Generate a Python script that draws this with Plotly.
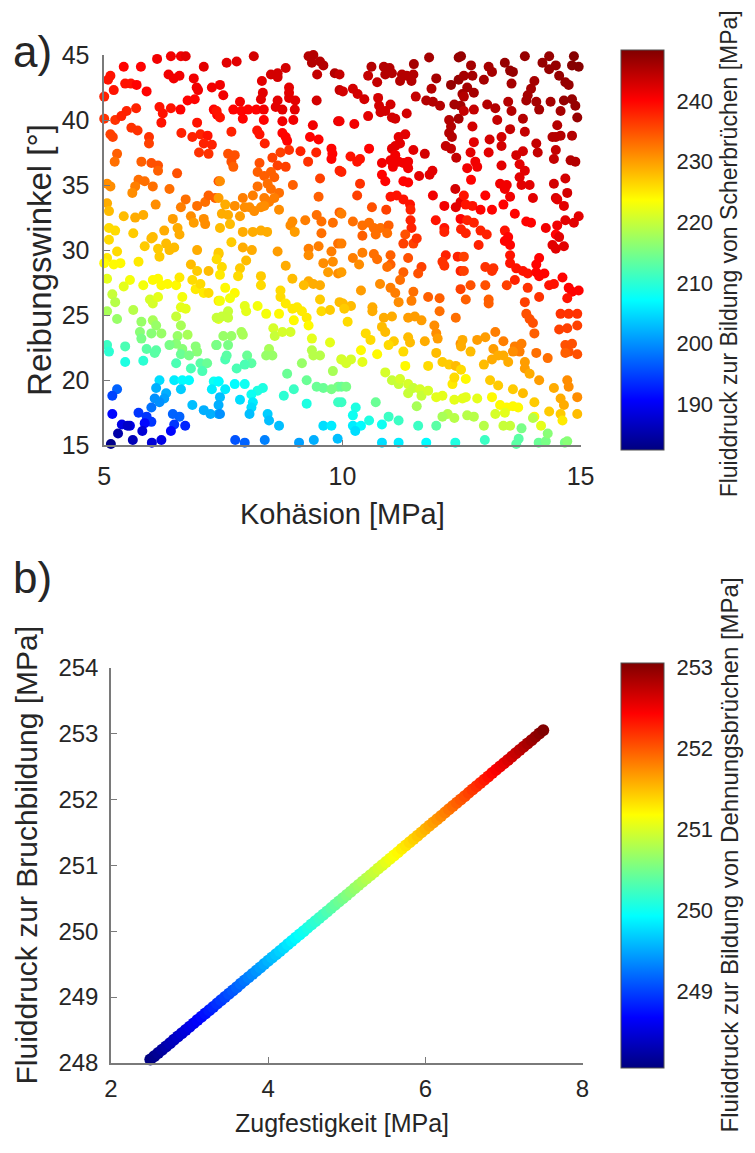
import plotly.graph_objects as go

# ---------------- Panel a data (Kohäsion, Reibungswinkel, Fluiddruck Scherbruch) ----------------
koh_1 = [6.11,6.40,6.61,6.71, 5.41,5.77,7.09, 5.13,5.08,6.35,6.46,6.58,6.88,
         5.44,5.56,5.68,5.20,5.89,6.94,6.97,7.26,
         5.00,6.75,6.90,6.16,6.23,6.40,6.60,5.47,5.67,7.30,7.37,
         5.00,5.23,5.36,6.20,6.95,5.57,5.70,5.13,5.18,6.62,6.85,7.02,7.17,5.94,5.94,7.09,7.26,
         6.99,7.19,5.27,5.22,5.78,5.99,6.13,6.13,6.53,
         5.06,5.13,5.72,5.85,5.65,5.59,6.02,6.37,7.40,
         5.06,5.10,6.08,6.71,6.61,6.95,7.12,7.19,7.33,
         5.41,5.65,5.82,6.44,6.82,6.88,7.09,7.12,
         5.10,5.23,5.61,6.26,6.54,6.58,6.02]
rw_1 = [44.7,44.9,44.9,44.9, 44.1,44.1,44.1, 43.4,43.1,43.5,43.2,43.4,43.2,
        42.8,42.8,42.7,42.3,42.2,42.5,42.3,42.5,
        41.8,41.5,41.6,41.0,40.5,40.9,40.8,40.7,40.9,40.8,40.4,
        40.1,40.0,40.3,39.8,39.8,39.4,39.2,38.9,38.7,39.0,38.7,38.9,38.8,38.7,38.2,38.2,38.1,
        37.5,37.4,37.4,36.8,36.8,36.7,36.5,36.1,35.9,
        35.1,34.9,35.4,35.3,34.9,34.4,34.9,34.7,35.3,
        33.6,33.0,33.5,33.9,33.3,33.4,33.7,34.2,34.0,
        32.6,32.5,32.7,32.4,32.6,32.1,32.4,32.0,
        31.7,31.5,31.3,31.5,31.7,31.2,31.0]
fd_1 = [241,241,241,242, 240,240,242, 239,239,241,241,241,241,
        239,239,240,239,240,241,241,241,
        238,240,240,239,239,239,240,238,238,240,240,
        237,237,238,239,239,237,237,236,236,238,238,238,239,237,236,238,238,
        237,237,234,233,234,235,235,234,235,
        231,231,233,233,232,231,233,233,235,
        229,228,231,233,232,233,233,234,234,
        228,229,229,230,231,230,231,231,
        226,226,227,229,229,229,228]

koh_2 = [8.14,7.57,7.78,9.29,9.39,9.36,9.53,9.60,8.81,8.50,8.64,8.64,9.47,9.84,8.31,7.43,8.88,8.88,8.88,8.33,8.29,7.50,9.94,9.46,8.64,8.60,8.74,9.01,9.00,7.85,
         7.71,7.88,8.02,8.19,8.35,7.36,7.43,7.91,8.35,8.74,8.97,9.91,9.38,
         7.67,8.21,8.26,8.74,8.81,8.84,9.32,9.50,8.37,9.77,9.79,9.77,9.12,9.45,8.88,
         7.60,7.74,7.67,7.71,8.26,8.53,8.70,8.64,8.81,9.28,9.94,
         8.22,8.36,8.50,8.57,7.43,9.53,8.22,8.43,8.50,8.67,8.96,
         7.91,8.12,8.36,8.46,8.57,7.40,9.50,
         7.74,7.95,8.05,8.15,8.29,8.36,8.67,7.54,7.47,7.60,9.94,7.85,8.95,8.91,9.22,9.46,9.56,9.80,
         7.43,7.64,7.91,8.12,8.29,8.42,9.00]
rw_2 = [44.9,44.4,44.5,44.9,45.0,44.4,44.5,44.2,44.0,43.5,43.6,43.3,43.5,43.6,43.0,42.7,42.5,42.1,41.7,42.1,41.6,41.9,42.3,41.5,41.5,41.0,40.8,41.5,40.8,41.4,
        40.8,40.7,40.8,40.8,40.8,40.7,40.2,40.1,40.0,39.9,40.0,39.9,39.6,
        39.1,39.2,38.9,39.0,38.7,38.4,38.7,38.5,38.2,37.8,37.4,37.0,37.6,37.5,37.7,
        37.4,37.3,36.8,36.4,36.7,37.1,37.5,36.5,36.4,36.8,36.1,
        36.0,35.7,36.0,35.6,35.3,35.5,34.9,35.1,34.7,34.4,35.0,
        34.0,34.2,34.0,33.7,34.0,34.0,34.1,
        33.4,33.3,33.3,33.0,33.3,33.4,33.1,33.5,32.8,32.7,32.9,32.6,32.2,31.9,32.3,32.7,32.2,32.1,
        31.7,32.0,31.4,31.4,31.5,31.4,31.4]
fd_2 = [243,242,242,245,245,245,245,245,243,243,243,243,244,245,242,241,242,242,242,242,242,241,244,243,242,242,242,242,242,241,
        240,240,240,240,241,239,239,240,240,241,241,242,241,
        238,239,239,240,240,240,240,240,238,240,240,240,238,238,237,
        235,235,235,234,235,236,236,236,236,237,238,
        234,234,234,234,231,236,233,233,233,233,234,
        232,232,232,232,232,230,234,
        231,231,231,231,231,231,231,229,229,229,234,230,231,231,232,233,233,233,
        228,228,229,229,229,229,230]

koh_3 = [11.82,12.44,11.50,10.61,10.87,10.99,11.04,10.90,10.54,11.25,11.21,11.35,11.49,11.45,10.73,11.97,12.44,12.28,9.94,11.87,
         10.22,10.32,10.46,10.01,12.52,12.48,12.35,
         10.75,10.77,10.90,10.80,11.01,11.04,11.11,11.54,11.76,11.90,12.05,10.54,11.35,
         9.94,10.25,12.24,12.28,12.24,12.30,12.44,
         11.18,11.32,11.21,11.11,10.56,11.04,11.49,12.17,12.28,11.73,
         10.17,10.31,10.37,10.83,11.01,11.11,11.18,11.06,11.28,11.38,11.38,12.39,
         9.98,10.83,10.90,11.61,11.83,11.89,11.28,11.38,10.37,12.37,
         11.01,11.14,11.28,11.42,10.31,11.90,12.14,12.48,12.38,10.62,10.92,11.43,11.43,11.45,9.98,11.96,12.14,12.48,
         10.22,10.42,10.56,10.66,10.80,10.97,10.70,10.94,11.32]
rw_3 = [44.8,44.8,44.3,44.1,44.1,44.0,43.6,43.5,43.4,43.5,43.0,43.4,43.5,43.0,42.9,43.2,43.1,42.7,43.5,42.4,
        42.4,42.0,41.6,42.2,42.0,41.1,41.2,
        41.7,41.1,40.7,40.6,41.2,40.2,40.1,41.8,41.5,41.4,41.1,40.3,40.5,
        39.9,39.7,40.0,39.5,39.0,38.7,40.1,
        38.7,38.9,38.2,38.0,37.8,37.8,37.7,38.0,37.8,37.4,
        37.2,36.8,37.0,36.7,36.9,37.3,36.8,36.4,36.7,36.8,36.3,37.1,
        36.0,35.8,35.3,35.7,35.8,36.1,35.3,35.2,35.1,34.7,
        34.1,34.2,33.9,33.5,34.2,34.2,33.4,33.7,33.3,33.3,33.1,33.1,32.3,31.7,32.8,32.3,31.7,32.4,
        32.2,31.9,32.1,31.7,31.7,31.9,31.2,31.3,31.2]
fd_3 = [246,247,246,245,245,245,245,245,244,245,245,245,245,245,244,246,247,247,244,245,
        243,243,243,243,246,246,246,
        243,243,243,243,243,243,243,244,245,245,245,242,243,
        241,241,245,245,245,245,246,
        242,242,242,242,240,242,242,244,244,243,
        239,239,239,241,241,241,241,241,241,241,241,244,
        238,240,240,242,242,242,240,240,237,243,
        239,239,239,239,236,241,241,242,242,235,236,238,238,238,232,239,239,240,
        233,233,233,233,233,234,233,233,235]

koh_4 = [13.83,14.86,14.96,14.82,14.34,14.20,14.48,14.34,12.49,13.41,13.52,13.58,12.70,13.07,13.14,
         12.55,12.73,12.62,12.76,12.97,13.55,14.03,13.96,13.89,13.86,14.07,14.55,14.68,14.75,
         12.55,13.48,13.55,13.04,13.21,14.37,14.65,14.82,14.89,14.13,12.55,12.76,14.58,14.93,
         13.25,13.79,12.73,13.52,13.83,14.51,14.48,14.58,14.41,14.82,13.34,13.34,13.09,12.76,14.07,14.10,13.79,13.65,12.69,13.07,14.48,14.44,14.79,14.89,
         12.79,12.83,12.62,13.34,13.72,13.83,13.72,13.76,13.93,12.70,13.31,13.45,13.41,14.44,14.68,14.72,14.48,
         13.00,13.52,14.00,12.55,12.59,12.73,12.90,13.14,13.38,14.51,14.65,13.62,
         12.62,12.76,12.90,13.03,12.49,12.59,13.41,13.86,13.96,14.27,14.51,14.68,14.86,14.96,14.48]
rw_4 = [44.9,44.9,44.1,44.2,44.9,44.4,44.2,43.9,44.9,44.4,43.8,43.7,44.2,44.1,43.7,
        43.4,43.4,42.5,42.1,43.1,42.8,43.0,42.4,41.9,41.5,41.4,43.4,42.9,42.7,
        41.8,41.4,40.7,41.2,40.9,41.4,41.5,41.6,41.1,40.8,40.7,40.8,40.7,40.2,
        40.0,40.1,39.5,39.3,39.1,39.6,38.7,38.8,38.7,38.8,38.7,38.0,38.5,38.3,38.2,37.5,37.6,37.3,37.5,37.5,37.7,37.0,36.9,36.8,
        36.8,36.4,36.3,36.5,36.6,36.1,35.6,35.0,35.0,35.4,35.1,35.0,34.7,35.1,35.5,34.4,34.0,
        34.2,34.1,34.0,34.2,33.5,33.4,33.1,33.1,33.5,33.9,33.4,32.8,
        32.3,32.1,31.5,31.2,31.6,31.3,31.5,32.2,32.1,31.7,31.9,32.3,32.1,32.6,31.2]
fd_4 = [247,248,248,248,247,247,247,247,247,247,247,247,246,246,246,
        246,246,246,246,246,246,246,246,246,246,246,247,247,247,
        245,245,245,245,245,246,247,247,247,246,244,244,246,247,
        244,245,243,244,244,245,245,245,245,245,243,243,243,242,244,244,243,243,242,242,244,244,245,245,
        241,241,241,242,242,242,242,242,242,240,241,241,241,243,243,243,243,
        240,241,242,239,239,239,240,240,240,242,242,240,
        238,238,238,238,238,238,239,240,240,241,241,242,242,242,240]

koh_5 = [5.10,5.06,5.00,5.27,
         5.85,5.99,6.13,6.16,6.30,6.37,6.47,6.95,
         5.20,5.34,5.72,6.82,6.95,7.19,7.40,
         5.06,5.54,5.41,5.82,6.02,6.13,6.20,6.33,6.51,6.58,6.85,6.92,7.02,7.09,7.19,
         5.17,5.23,5.96,6.02,6.13,6.64,6.61,6.71,5.06,5.61,7.40,5.27,6.51,7.40,
         5.78,5.75,5.78,6.02,6.09,5.99,6.20,6.61,6.75,6.54,6.51,6.64,
         5.06,5.10,5.44,5.89,6.06,6.09,6.37,6.92,6.95,7.35,6.61,6.78,
         5.44,5.82,6.51,6.82,7.02,7.16,7.06,
         6.16,6.47,6.64,6.78,7.30,
         5.27,5.17,6.09,6.30,6.26,6.61,7.26,7.40,
         6.06,6.16,5.99,6.85,7.09,7.23,7.40,
         5.17,5.72,5.89,5.99,6.44,6.58,5.37,5.54,5.85,6.47]
rw_5 = [30.8,29.4,29.0,29.9,
        30.3,30.9,30.1,29.5,30.5,30.0,30.2,30.0,
        28.9,29.0,29.1,28.9,28.4,28.4,29.7,
        27.8,27.7,27.2,27.3,27.7,27.8,27.3,27.4,27.3,27.9,27.7,27.0,27.4,26.7,26.7,
        26.6,26.0,26.2,25.9,26.4,26.4,25.6,25.5,25.3,25.4,26.1,24.7,24.9,24.7,
        24.5,23.7,23.2,24.6,24.2,23.6,23.6,24.2,23.5,23.4,22.8,22.4,
        22.7,22.2,22.6,22.4,22.1,22.3,22.7,22.6,22.2,22.7,22.0,21.9,
        21.4,21.5,21.3,20.9,21.3,21.3,20.7,
        20.0,20.0,20.0,20.0,19.9,
        19.3,18.8,19.4,19.0,18.6,19.3,19.3,19.9,
        18.6,18.3,17.9,18.1,17.7,17.4,17.4,
        17.4,17.5,17.2,16.8,17.4,17.2,16.6,16.5,16.7,16.6]
fd_5 = [226,225,224,226,
        227,228,227,227,228,228,228,229,
        224,224,225,228,227,228,229,
        222,223,222,223,224,224,224,224,224,225,226,225,226,225,226,
        220,219,221,221,222,223,222,222,218,219,225,217,220,222,
        217,216,215,218,217,216,217,218,218,217,216,216,
        211,210,212,213,213,213,215,216,216,217,214,215,
        209,210,212,212,213,214,212,
        205,206,207,207,208,
        197,195,202,202,201,204,206,208,
        200,200,198,203,202,202,202,
        191,194,194,194,197,197,189,189,191,194]

koh_6 = [9.56,7.67,7.40,7.36,7.91,8.10,8.64,
         9.29,9.29,9.50,9.77,9.91,
         7.98,7.85,7.47,8.81,9.60,9.80,9.70,9.91,
         7.43,7.81,8.29,8.29,8.95,9.29,9.39,9.53,9.19,
         7.54,7.74,7.64,7.43,8.70,8.70,8.81,8.95,9.05,9.53,9.56,9.74,9.94,
         7.95,7.98,8.22,8.40,9.15,9.25,8.67,8.98,
         7.60,7.36,7.47,7.60,9.29,8.55,8.58,8.74,8.91,7.88,7.91,7.50,7.67,9.36,9.74,
         7.36,7.60,8.46,8.40,8.53,9.36,9.53,9.39,9.98,7.54,7.57,8.00,8.09,9.15,7.78,7.95,9.80,8.84,9.25,
         9.46,9.60,9.77,9.91,7.74,7.95,7.54,7.40,8.33,8.22,8.09,8.98,8.77,
         7.43,7.40,7.85,8.12,8.09,9.25,9.91,7.43,8.05,8.43,8.46,8.67,9.60,9.77]
rw_6 = [31.3,30.6,29.8,29.3,30.2,30.0,29.9,
        30.1,29.6,30.3,29.9,30.5,
        29.2,28.6,28.7,28.8,29.0,29.1,28.3,28.2,
        28.1,28.0,28.0,27.3,27.8,27.6,27.4,27.3,27.3,
        27.1,26.7,26.3,26.1,26.9,26.4,25.9,25.5,25.6,26.2,25.3,25.4,26.0,
        25.7,25.3,25.7,25.1,25.3,24.8,25.1,24.6,
        25.3,24.8,24.9,24.8,24.2,24.0,23.4,23.7,23.7,23.7,23.5,23.4,23.4,23.2,22.9,
        22.7,22.7,22.4,21.9,21.9,22.3,21.9,21.9,21.6,21.6,21.9,21.9,21.3,21.3,20.9,21.2,20.7,20.5,20.0,
        19.5,19.4,19.3,19.5,19.7,19.7,19.3,19.9,19.4,19.2,18.9,19.3,18.8,
        18.7,18.1,18.5,18.3,17.9,18.2,18.3,17.4,17.4,17.4,16.9,16.5,16.5,16.5]
fd_6 = [233,227,227,226,229,229,230,
        232,231,232,232,233,
        228,227,226,229,231,231,230,231,
        225,226,227,226,228,229,229,229,228,
        224,224,223,223,226,226,225,225,225,227,226,227,228,
        222,222,223,223,225,225,224,224,
        220,220,220,220,224,221,220,221,221,218,218,217,217,222,222,
        215,215,218,217,217,219,219,219,220,212,213,214,213,217,212,212,218,214,214,
        214,214,215,215,207,208,206,207,209,209,208,211,210,
        203,202,205,206,205,209,211,200,203,204,203,203,205,206]

koh_7 = [10.42,11.49,11.28,11.56,12.14,9.98,10.42,10.22,10.35,10.66,10.73,11.01,11.01,10.94,11.38,12.17,12.10,12.14,12.42,
         9.98,11.28,11.21,11.66,11.59,12.48,10.79,11.01,11.11,11.18,10.39,11.49,11.45,11.80,12.04,12.48,
         10.01,10.18,10.04,10.63,10.63,12.04,12.38,10.11,10.87,11.04,10.83,10.90,11.38,11.52,11.66,11.93,11.97,12.00,
         10.49,10.59,11.08,10.97,11.38,11.42,11.73,12.48,10.39,10.73,11.28,11.97,
         9.98,10.18,10.08,10.42,11.32,11.80,12.10,12.24,12.38,10.90,11.04,11.18,11.21,12.31,12.35,
         9.98,10.08,11.38,11.49,11.38,11.63,11.66,11.80,11.97,12.10,12.35,9.98,10.70,11.56,
         10.28,10.22,12.21,12.10,12.35,10.56,10.97,11.18,10.22,10.39,10.83,11.59,11.97]
rw_7 = [31.1,30.5,30.5,30.9,31.4,30.5,29.8,29.4,28.9,29.7,29.3,29.6,28.9,28.7,29.4,29.6,29.1,28.8,29.5,
        28.3,28.3,27.7,28.7,28.2,28.4,27.4,27.1,26.7,26.0,26.9,26.8,26.1,26.4,26.3,27.0,
        25.9,25.7,25.5,25.6,25.3,25.3,24.8,24.5,24.8,24.9,24.1,23.7,24.8,24.9,24.6,24.2,23.6,23.2,
        23.6,23.1,23.0,22.7,23.3,22.9,23.0,22.8,22.3,22.0,22.2,22.1,
        21.6,21.6,21.3,21.4,21.1,21.1,21.4,21.2,21.1,20.6,20.0,19.7,20.1,19.7,20.2,
        19.5,19.5,19.7,19.4,19.0,19.3,18.8,19.2,18.7,18.8,18.5,18.3,18.3,18.0,
        17.9,17.3,17.4,17.2,17.1,16.9,17.2,16.9,16.5,16.5,16.6,16.5,16.5]
fd_7 = [234,236,236,237,238,232,232,232,231,233,233,234,234,233,235,238,237,237,238,
        230,234,233,236,235,238,231,232,232,231,230,233,232,234,234,236,
        228,228,227,229,229,233,233,226,229,229,228,228,230,230,230,231,231,230,
        226,226,227,226,228,228,229,231,224,224,226,228,
        221,221,221,222,224,226,227,227,228,221,220,220,221,225,226,
        214,215,221,220,220,221,220,221,222,222,222,211,214,218,
        209,208,219,218,219,209,211,211,206,207,208,211,213]

koh_8 = [12.86,13.48,13.41,13.52,14.55,14.41,14.48,14.65,
         13.52,13.52,13.65,13.79,13.89,14.13,14.07,12.55,13.00,13.14,13.17,14.07,14.13,14.24,12.55,14.62,13.62,
         12.69,13.00,13.45,13.89,14.34,14.44,14.75,14.82,14.96,14.72,
         12.59,13.07,13.07,14.13,13.83,13.86,13.93,14.00,14.58,14.75,14.93,14.55,14.72,14.93,14.03,13.21,
         12.83,13.00,12.52,12.49,13.38,14.68,14.82,14.75,14.93,14.68,13.62,13.72,13.76,13.58,14.07,14.31,13.17,12.69,
         12.97,13.14,13.27,13.38,13.48,13.83,13.83,13.93,14.13,12.49,13.10,13.27,12.59,13.58,14.44,14.72,14.75,14.93,13.79,14.58,14.65,14.03,
         12.52,12.59,12.83,13.14,13.31,13.45,13.58,13.69,14.34,14.58,14.93,12.62,12.76,13.21,13.41,14.03,12.97,13.38,13.52,14.17,14.62]
rw_8 = [30.4,31.0,30.7,30.4,31.0,30.4,30.1,30.3,
        29.6,29.0,28.6,28.4,28.2,29.4,28.9,29.5,28.7,28.4,28.6,28.3,28.0,28.2,28.4,27.9,27.7,
        27.3,27.3,27.3,27.1,27.3,27.4,27.1,26.8,26.9,26.3,
        26.2,26.2,25.9,26.4,26.0,25.1,24.7,24.4,25.1,25.1,25.1,23.9,24.0,24.2,23.6,23.7,
        23.1,23.3,23.1,22.6,23.0,22.7,22.8,22.2,22.0,22.1,22.6,22.2,22.8,22.2,22.1,21.7,22.4,22.2,
        21.2,21.6,21.9,21.9,21.4,21.4,20.9,20.5,20.0,20.8,20.0,19.6,20.1,19.3,19.4,20.0,19.5,18.7,19.0,18.6,18.1,18.3,
        18.6,18.7,18.6,18.7,18.1,17.9,18.0,17.9,17.6,17.4,17.4,17.3,17.2,17.4,17.5,17.2,16.5,16.5,16.5,16.5,16.9]
fd_8 = [238,240,240,240,242,242,242,242,
        239,239,239,239,239,240,240,236,237,237,237,240,240,240,236,240,238,
        235,235,236,237,239,239,240,240,240,239,
        234,234,234,237,236,235,235,235,237,237,237,236,236,236,234,232,
        230,230,229,229,232,235,235,235,235,234,232,232,232,231,233,233,230,228,
        228,229,229,229,229,230,230,229,230,226,227,227,224,227,229,231,231,231,228,229,229,227,
        222,222,222,224,224,224,224,224,227,227,228,219,219,221,222,224,219,220,220,222,225]

koh_9 = [5.14,5.29,5.49,5.60,5.80,6.00,6.20,6.40,6.70,7.75,7.95,8.37,9.09,9.40,9.90,10.27,10.83,11.18,11.76,12.37,
         12.99,13.70,14.12,14.67,13.65,14.27,14.72,14.31,13.76,14.00]
rw_9 = [15.1,15.9,16.5,15.4,16.1,15.2,15.4,16.1,16.5,15.4,15.2,15.4,15.2,15.4,15.5,16.1,15.2,15.2,15.2,15.2,
        15.4,15.5,15.2,15.2,15.1,15.3,15.3,15.9,16.3,17.1]
fd_9 = [183,185,187,186,188,188,189,191,193,196,197,199,201,202,203,205,205,206,207,209,
        211,213,214,215,213,215,216,216,215,219]

kohaesion = koh_1 + koh_2 + koh_3 + koh_4 + koh_5 + koh_6 + koh_7 + koh_8 + koh_9
reibungswinkel = rw_1 + rw_2 + rw_3 + rw_4 + rw_5 + rw_6 + rw_7 + rw_8 + rw_9
fluiddruck_scher = fd_1 + fd_2 + fd_3 + fd_4 + fd_5 + fd_6 + fd_7 + fd_8 + fd_9
for a, b, c in [(koh_1, rw_1, fd_1), (koh_2, rw_2, fd_2), (koh_3, rw_3, fd_3), (koh_4, rw_4, fd_4),
                (koh_5, rw_5, fd_5), (koh_6, rw_6, fd_6), (koh_7, rw_7, fd_7), (koh_8, rw_8, fd_8), (koh_9, rw_9, fd_9)]:
    assert len(a) == len(b) == len(c), (len(a), len(b), len(c))

# ---------------- Panel b data (Zugfestigkeit, Fluiddruck Dehnungsbruch) ----------------
zugfestigkeit = [2.50,2.55,2.60,2.65,2.70,2.75,2.80,2.85,2.90,2.95,3.00,3.05,3.10,3.15,3.20,3.25,3.30,3.35,3.40,3.45,
                 3.50,3.55,3.60,3.65,3.70,3.75,3.80,3.85,3.90,3.95,4.00,4.05,4.10,4.15,4.20,4.25,4.30,4.35,4.40,4.45,
                 4.50,4.55,4.60,4.65,4.70,4.75,4.80,4.85,4.90,4.95,5.00,5.05,5.10,5.15,5.20,5.25,5.30,5.35,5.40,5.45,
                 5.50,5.55,5.60,5.65,5.70,5.75,5.80,5.85,5.90,5.95,6.00,6.05,6.10,6.15,6.20,6.25,6.30,6.35,6.40,6.45,
                 6.50,6.55,6.60,6.65,6.70,6.75,6.80,6.85,6.90,6.95,7.00,7.05,7.10,7.15,7.20,7.25,7.30,7.35,7.40,7.45,7.50]
fluiddruck_dehn = [248.05,248.10,248.15,248.20,248.25,248.30,248.35,248.40,248.45,248.50,248.55,248.60,248.65,248.70,248.75,248.80,248.85,248.90,248.95,249.00,
                   249.05,249.10,249.15,249.20,249.25,249.30,249.35,249.40,249.45,249.50,249.55,249.60,249.65,249.70,249.75,249.80,249.85,249.90,249.95,250.00,
                   250.05,250.10,250.15,250.20,250.25,250.30,250.35,250.40,250.45,250.50,250.55,250.60,250.65,250.70,250.75,250.80,250.85,250.90,250.95,251.00,
                   251.05,251.10,251.15,251.20,251.25,251.30,251.35,251.40,251.45,251.50,251.55,251.60,251.65,251.70,251.75,251.80,251.85,251.90,251.95,252.00,
                   252.05,252.10,252.15,252.20,252.25,252.30,252.35,252.40,252.45,252.50,252.55,252.60,252.65,252.70,252.75,252.80,252.85,252.90,252.95,253.00,253.05]

# ticks
x_ticks_a = [5, 10, 15]
y_ticks_a = [15, 20, 25, 30, 35, 40, 45]
cb_ticks_a = [190, 200, 210, 220, 230, 240]
x_ticks_b = [2, 4, 6, 8]
y_ticks_b = [248, 249, 250, 251, 252, 253, 254]
cb_ticks_b = [249, 250, 251, 252, 253]

# ---------------- layout helpers ----------------
W, H = 755, 1153
def px(x): return x / W
def py(y): return 1 - y / H

jet = [[0.0, '#000080'], [0.125, '#0000ff'], [0.375, '#00ffff'],
       [0.625, '#ffff00'], [0.875, '#ff0000'], [1.0, '#800000']]
FONT = 'Liberation Sans, Arial, sans-serif'
TXT = '#262626'
AX = '#7a7a7a'

A_L, A_R, A_T, A_B = 100, 590, 42, 442
B_L, B_R, B_T, B_B = 107, 592, 670, 1075
CB_X = 632

def colorbar(top, bottom, ticks):
    return dict(x=px(CB_X), xanchor='left', xpad=0, ypad=0,
                y=py((top + bottom) / 2), yanchor='middle',
                len=bottom - top, lenmode='pixels', thickness=43, thicknessmode='pixels',
                outlinewidth=1, outlinecolor='#505050',
                tickvals=ticks, ticks='outside', ticklen=8, tickcolor='rgba(0,0,0,0)',
                tickfont=dict(family=FONT, size=22, color=TXT))

fig = go.Figure()
fig.add_trace(go.Scatter(
    x=kohaesion, y=reibungswinkel, mode='markers', cliponaxis=False,
    marker=dict(size=10, color=fluiddruck_scher, colorscale=jet, cmin=182.4, cmax=248.4,
                line=dict(width=0), colorbar=colorbar(A_T, A_B, cb_ticks_a)),
    xaxis='x', yaxis='y', showlegend=False, hoverinfo='skip'))
fig.add_trace(go.Scatter(
    x=zugfestigkeit, y=fluiddruck_dehn, mode='markers', cliponaxis=False,
    marker=dict(size=12, color=fluiddruck_dehn, colorscale=jet, cmin=248.05, cmax=253.05,
                line=dict(width=0), colorbar=colorbar(B_T, B_B, cb_ticks_b)),
    xaxis='x2', yaxis='y2', showlegend=False, hoverinfo='skip'))

def axis_common(size, standoff):
    return dict(showline=True, linecolor=AX, linewidth=1.5, mirror=False, showgrid=False, zeroline=False,
                ticks='inside', ticklen=6, tickcolor=AX, tickwidth=1.2, ticklabelstandoff=standoff,
                tickfont=dict(family=FONT, size=size, color=TXT))

fig.update_layout(
    width=W, height=H, margin=dict(l=0, r=0, t=0, b=0),
    paper_bgcolor='white', plot_bgcolor='white',
    xaxis=dict(domain=[px(A_L), px(A_R)], range=[5, 15], tickvals=x_ticks_a, anchor='y', **axis_common(25, 8)),
    yaxis=dict(domain=[py(A_B), py(A_T)], range=[15, 45], tickvals=y_ticks_a, anchor='x', **axis_common(25, 8)),
    xaxis2=dict(domain=[px(B_L), px(B_R)], range=[2, 8], tickvals=x_ticks_b, anchor='y2', **axis_common(24, 4)),
    yaxis2=dict(domain=[py(B_B), py(B_T)], range=[248, 254], tickvals=y_ticks_b, anchor='x2', **axis_common(24, 6)),
)

def ann(text, x, y, size, angle=0, xanchor='center'):
    fig.add_annotation(text=text, x=px(x), y=py(y), xref='paper', yref='paper', showarrow=False,
                       textangle=angle, xanchor=xanchor, yanchor='middle',
                       font=dict(family=FONT, size=size, color=TXT))

ann('a)', 4, 38, 44, xanchor='left')
ann('b)', 4, 578, 44, xanchor='left')
ann('Reibungswinkel [°]', 34, 252, 33, angle=-90)
ann('Kohäsion [MPa]', 345, 512, 29)
ann('Fluiddruck zur Bruchbildung [MPa]', 20, 862, 30, angle=-90)
ann('Zugfestigkeit [MPa]', 345, 1137, 25)
ann('Fluiddruck zur Bildung von Scherbrüchen [MPa]', 743, 246, 23, angle=-90)
ann('Fluiddruck zur Bildung von Dehnungsbrüchen [MPa]', 743, 862, 24, angle=-90)

fig.write_html('out.html')
